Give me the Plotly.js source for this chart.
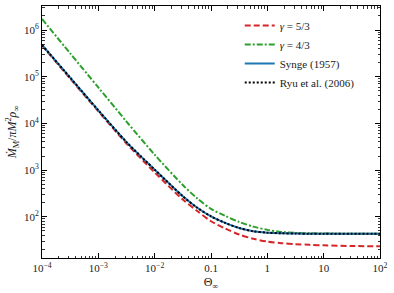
<!DOCTYPE html>
<html>
<head>
<meta charset="utf-8">
<script src="https://cdn.plot.ly/plotly-3.0.1.min.js"></script>
<style>html,body{margin:0;padding:0;background:#fff;}#chart{width:394px;height:293px;}</style>
</head>
<body>
<div id="chart"></div>
<script>
// Θ∞ sample points
const theta = [1e-4, 3.16e-4, 1e-3, 3.16e-3, 1e-2, 3.16e-2, 5.62e-2, 0.1, 0.178, 0.316, 0.562, 1, 1.78, 3.16, 5.62, 10, 31.6, 100];
// accretion rate readings
const gamma53 = [467700, 91200, 18200, 3715, 891, 234.4, 134.9, 80.4, 56.2, 41.7, 33.9, 29.5, 27.2, 26.0, 25.1, 24.5, 23.7, 23.3];
const gamma43 = [1722000, 316200, 58900, 10960, 2138, 478.6, 251.2, 147.9, 104.7, 77.6, 61.7, 52.5, 47.3, 45.2, 44.4, 43.9, 43.4, 43.3];
const synge = [478600, 95500, 19050, 3981, 1023, 275, 158.5, 102.3, 74.1, 57.5, 49.0, 45.7, 44.5, 43.8, 43.5, 43.3, 43.2, 43.2];
const ryu = [478600, 95500, 19050, 3981, 1023, 275, 158.5, 102.3, 74.1, 57.5, 49.0, 45.7, 44.5, 43.8, 43.5, 43.3, 43.2, 43.2];
const seriesNames = ['<i>γ</i> = 5/3', '<i>γ</i> = 4/3', 'Synge (1957)', 'Ryu et al. (2006)'];
const xTickVals = [1e-4, 1e-3, 1e-2, 0.1, 1, 10, 100];
const xTickText = ['10<sup>−4</sup>', '10<sup>−3</sup>', '10<sup>−2</sup>', '0.1', '1', '10', '10<sup>2</sup>'];
const yTickVals = [1e2, 1e3, 1e4, 1e5, 1e6];
const yTickText = ['10<sup>2</sup>', '10<sup>3</sup>', '10<sup>4</sup>', '10<sup>5</sup>', '10<sup>6</sup>'];

const FONT = 'Liberation Serif, DejaVu Serif, serif';
const mk = (y, name, color, dash) => ({
  x: theta, y: y, name: name, type: 'scatter', mode: 'lines',
  line: {color: color, width: 2, dash: dash, shape: 'spline', smoothing: 0.8}
});
const data = [
  mk(gamma53, seriesNames[0], '#d62728', '6px,3px'),
  mk(gamma43, seriesNames[1], '#2ca02c', '6px,2px,2px,2px'),
  mk(synge, seriesNames[2], '#1f77b4', 'solid'),
  mk(ryu, seriesNames[3], '#000000', '2px,2px')
];
const axisCommon = {
  type: 'log', showgrid: false, zeroline: false, showline: true, linecolor: '#000', linewidth: 1,
  mirror: 'allticks', ticks: 'inside', ticklen: 5, tickwidth: 1, tickcolor: '#000',
  tickmode: 'array', tickfont: {family: FONT, size: 11, color: '#222'},
  minor: {dtick: 'D1', ticks: 'inside', ticklen: 2.5, tickwidth: 0.8, tickcolor: '#000', showgrid: false}
};
const layout = {
  width: 394, height: 293,
  margin: {l: 42, r: 14, t: 6, b: 35},
  paper_bgcolor: '#fff', plot_bgcolor: '#fff',
  font: {family: FONT, color: '#222'},
  showlegend: true,
  legend: {x: 0.585, y: 0.98, xanchor: 'left', yanchor: 'top', bgcolor: 'rgba(0,0,0,0)',
           font: {family: FONT, size: 11, color: '#222'}, tracegroupgap: 0},
  xaxis: Object.assign({}, axisCommon, {
    range: [-4, 2], tickvals: xTickVals, ticktext: xTickText,
    title: {text: 'Θ<sub>∞</sub>', font: {family: FONT, size: 12, color: '#222'}, standoff: 4}
  }),
  yaxis: Object.assign({}, axisCommon, {
    range: [1.118, 6.514], tickvals: yTickVals, ticktext: yTickText,
    title: {text: '<i>Ṁ</i><sub>M</sub>/<i>πM</i><sup>2</sup><i>ρ</i><sub>∞</sub>', font: {family: FONT, size: 12, color: '#222'}, standoff: 4}
  })
};
Plotly.newPlot('chart', data, layout, {staticPlot: true, displayModeBar: false});
</script>
</body>
</html>
